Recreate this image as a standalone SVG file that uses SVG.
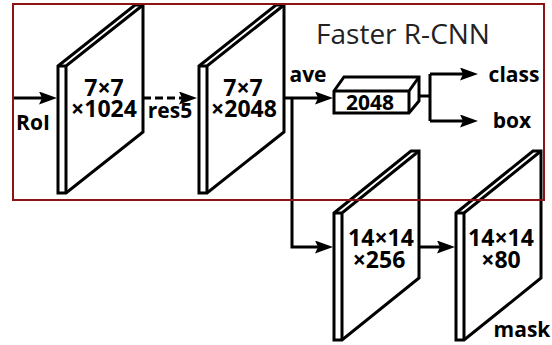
<svg xmlns="http://www.w3.org/2000/svg" width="552" height="345" viewBox="0 0 552 345">
<style>
.pl{fill:#fff;stroke:#000;stroke-width:3;stroke-linejoin:miter}
.ed{fill:none;stroke:#000;stroke-width:3}
.cn{fill:none;stroke:#000;stroke-width:3}
.dash{stroke-dasharray:8 4}
.t{font-family:"Open Sans","Liberation Sans",sans-serif;font-weight:bold;fill:#000;text-anchor:middle}
.n{font-size:23px}
.lb{font-size:21px}
.ttl{font-family:"Open Sans","Liberation Sans",sans-serif;font-size:28px;fill:#222;text-anchor:middle}
</style>
<defs>
<marker id="ah" markerUnits="userSpaceOnUse" markerWidth="20" markerHeight="14" refX="8" refY="6.5" orient="auto">
<path d="M0,0 L18,6.5 L0,13 L3,6.5 Z" fill="#000"/>
</marker>
</defs>
<rect width="552" height="345" fill="#fff"/>
<g id="connectors">
<path class="cn" d="M13,98 H47" marker-end="url(#ah)"/>
<path class="cn dash" d="M143,98 H187" marker-end="url(#ah)"/>
<path class="cn" d="M284,98 H323" marker-end="url(#ah)"/>
<path class="cn" d="M292,98 V247 H323" marker-end="url(#ah)"/>
<path class="cn" d="M419,96 H430 M430,74 V121"/>
<path class="cn" d="M430,74 H468" marker-end="url(#ah)"/>
<path class="cn" d="M430,121 H468" marker-end="url(#ah)"/>
<path class="cn" d="M419,247 H445" marker-end="url(#ah)"/>
</g>
<g id="plate1">
<polygon class="pl" points="58,66 135,5 143,5 143,132 66,193 58,193"/>
<path class="ed" d="M58,66 H66 L143,5 M66,66 V193"/>
<text class="t n"><tspan x="104" y="96">7×7</tspan><tspan x="104" y="117">×1024</tspan></text>
</g>
<g id="plate2">
<polygon class="pl" points="199,66 276,5 284,5 284,132 207,193 199,193"/>
<path class="ed" d="M199,66 H207 L284,5 M207,66 V193"/>
<text class="t n"><tspan x="243" y="96">7×7</tspan><tspan x="244" y="117">×2048</tspan></text>
</g>
<g id="box2048">
<path class="pl" d="M334,91 L344,77 H419 V101 L409,113 H334 Z"/>
<path class="ed" d="M334,91 H409 L419,77 M409,91 V113"/>
<text class="t" style="font-size:21px" x="370" y="110">2048</text>
</g>
<g id="plate3">
<polygon class="pl" points="334,213 411,151 419,151 419,278 342,340 334,340"/>
<path class="ed" d="M334,213 H342 L419,151 M342,213 V340"/>
<text class="t n"><tspan x="381" y="246">14×14</tspan><tspan x="379" y="268">×256</tspan></text>
</g>
<g id="plate4">
<polygon class="pl" points="456,213 533,151 541,151 541,278 464,340 456,340"/>
<path class="ed" d="M456,213 H464 L541,151 M464,213 V340"/>
<text class="t n"><tspan x="501" y="246">14×14</tspan><tspan x="501" y="268">×80</tspan></text>
</g>
<g id="labels">
<text class="t lb" x="33" y="130">RoI</text>
<text class="t lb" x="170" y="118">res5</text>
<text class="t lb" x="308" y="82">ave</text>
<text class="t lb" x="514" y="82">class</text>
<text class="t lb" x="512" y="128">box</text>
<text class="t lb" x="522" y="337">mask</text>
</g>
<g id="faster-rcnn">
<rect x="13" y="4" width="531" height="196" fill="none" stroke="#8B1414" stroke-width="2"/>
<text class="ttl" x="403" y="44">Faster R-CNN</text>
</g>
</svg>
